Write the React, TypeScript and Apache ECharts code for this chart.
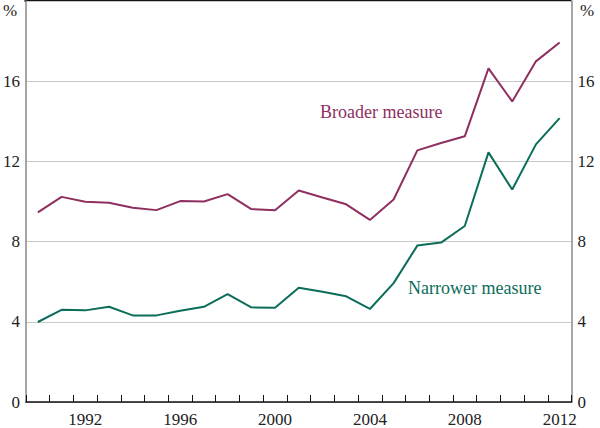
import React, { useEffect, useRef } from "react";
import * as echarts from "echarts";

const years = [
  "1990", "1991", "1992", "1993", "1994", "1995", "1996", "1997", "1998", "1999",
  "2000", "2001", "2002", "2003", "2004", "2005", "2006", "2007", "2008", "2009",
  "2010", "2011", "2012",
];
const broader = [
  9.46, 10.23, 9.99, 9.94, 9.69, 9.57, 10.02, 10.0, 10.37, 9.62,
  9.56, 10.55, 10.2, 9.86, 9.08, 10.1, 12.55, 12.92, 13.25, 16.64,
  14.99, 16.99, 17.93,
];
const narrower = [
  3.99, 4.6, 4.57, 4.75, 4.32, 4.32, 4.55, 4.75, 5.38, 4.72,
  4.7, 5.7, 5.5, 5.27, 4.64, 5.93, 7.8, 7.95, 8.78, 12.45,
  10.6, 12.85, 14.16,
];
const yTicks = [0, 4, 8, 12, 16, 20];

const FONT = "'Liberation Serif', 'Times New Roman', serif";
const BROADER_COLOR = "#8E2F5F";
const NARROWER_COLOR = "#0B6D5A";

export default function App() {
  const ref = useRef<HTMLDivElement>(null);
  useEffect(() => {
    if (!ref.current) return;
    const chart = echarts.init(ref.current, null, { renderer: "svg" });
    const yAxisCommon = {
      type: "value",
      min: yTicks[0],
      max: yTicks[yTicks.length - 1],
      interval: 4,
      axisTick: { show: false },
      splitLine: { show: true, lineStyle: { color: "#c8c8c8", width: 1 } },
      axisLine: { show: true, lineStyle: { color: "#8a8a8a", width: 1.5 } },
      axisLabel: {
        fontFamily: FONT,
        fontSize: 17,
        color: "#222",
        margin: 6,
        formatter: (v: number) => (v === 20 ? "" : String(v)),
      },
    };
    chart.setOption({
      animation: false,
      grid: { left: 24.5, right: 28.5, top: 1, bottom: 25.5, containLabel: false },
      xAxis: {
        type: "category",
        data: years,
        boundaryGap: true,
        axisLine: { show: true, lineStyle: { color: "#111", width: 1.5 } },
        axisTick: {
          show: true,
          inside: true,
          length: 7,
          interval: 0,
          alignWithLabel: false,
          lineStyle: { color: "#111", width: 1 },
        },
        axisLabel: {
          interval: (_i: number, v: string) => Number(v) % 4 === 0,
          fontFamily: FONT,
          fontSize: 17,
          color: "#222",
          margin: 9,
        },
        splitLine: { show: false },
      },
      yAxis: [
        { ...yAxisCommon, position: "left" },
        { ...yAxisCommon, position: "right", splitLine: { show: false } },
      ],
      series: [
        {
          name: "Broader measure",
          type: "line",
          data: broader,
          symbol: "none",
          lineStyle: { color: BROADER_COLOR, width: 2 },
          itemStyle: { color: BROADER_COLOR },
        },
        {
          name: "Narrower measure",
          type: "line",
          data: narrower,
          symbol: "none",
          lineStyle: { color: NARROWER_COLOR, width: 2 },
          itemStyle: { color: NARROWER_COLOR },
        },
      ],
      graphic: [
        {
          type: "line",
          shape: { x1: 24.5, y1: 1, x2: 571.5, y2: 1 },
          style: { stroke: "#111", lineWidth: 2 },
        },
        {
          type: "text",
          x: 10,
          y: 10,
          style: { text: "%", font: `17px ${FONT}`, fill: "#222", align: "center", verticalAlign: "middle" },
        },
        {
          type: "text",
          x: 587,
          y: 10,
          style: { text: "%", font: `17px ${FONT}`, fill: "#222", align: "center", verticalAlign: "middle" },
        },
        {
          type: "text",
          x: 320,
          y: 112,
          style: { text: "Broader measure", font: `18px ${FONT}`, fill: BROADER_COLOR, align: "left", verticalAlign: "middle" },
        },
        {
          type: "text",
          x: 408,
          y: 288,
          style: { text: "Narrower measure", font: `18px ${FONT}`, fill: NARROWER_COLOR, align: "left", verticalAlign: "middle" },
        },
      ],
    });
    return () => chart.dispose();
  }, []);
  return <div ref={ref} style={{ width: 600, height: 428, position: "absolute", left: 0, top: 0 }} />;
}
